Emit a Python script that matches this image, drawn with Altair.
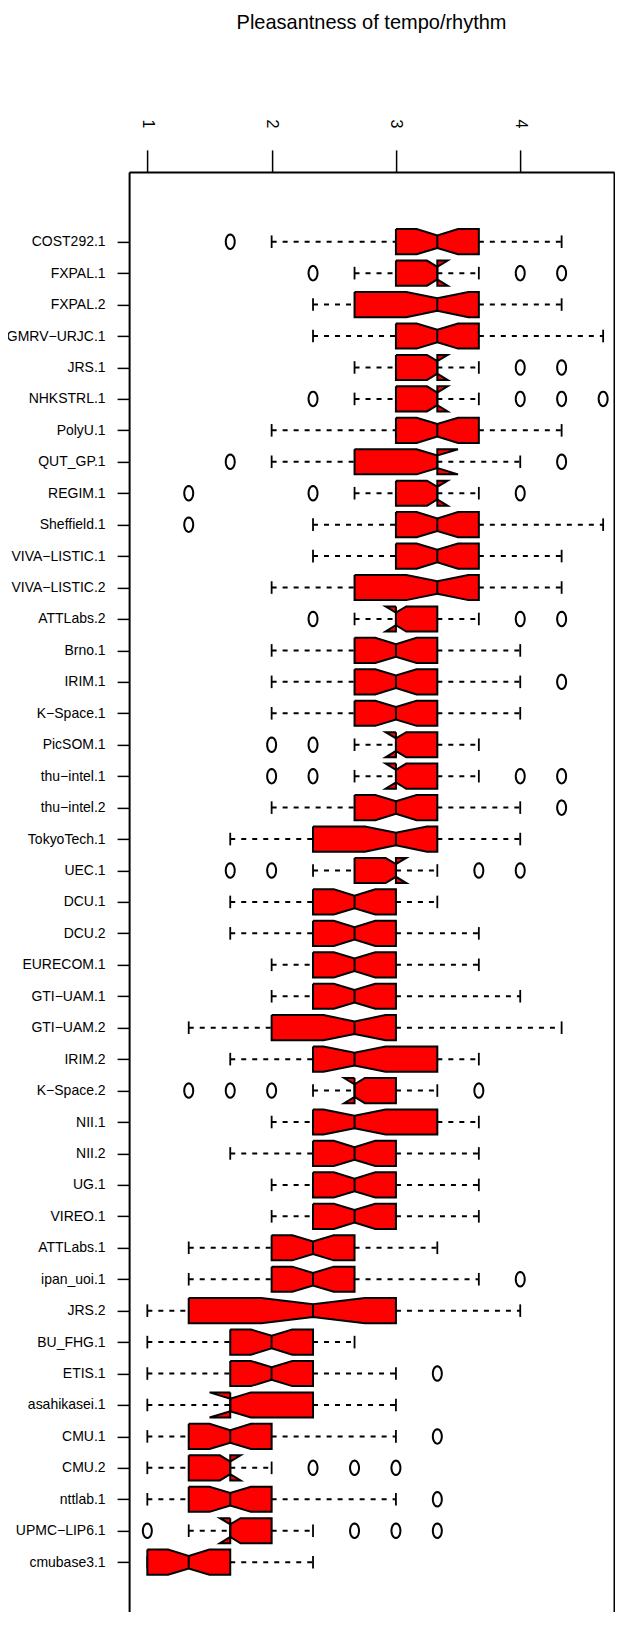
import json
import numpy as np
import pandas as pd
import altair as alt

# ---------------- data (values are on a 1..5 scale in thirds) -------------
runs = ["COST292.1", "FXPAL.1", "FXPAL.2", "GMRV\u2212URJC.1", "JRS.1", "NHKSTRL.1", "PolyU.1",
        "QUT_GP.1", "REGIM.1", "Sheffield.1", "VIVA\u2212LISTIC.1", "VIVA\u2212LISTIC.2", "ATTLabs.2",
        "Brno.1", "IRIM.1", "K\u2212Space.1", "PicSOM.1", "thu\u2212intel.1", "thu\u2212intel.2",
        "TokyoTech.1", "UEC.1", "DCU.1", "DCU.2", "EURECOM.1", "GTI\u2212UAM.1", "GTI\u2212UAM.2",
        "IRIM.2", "K\u2212Space.2", "NII.1", "NII.2", "UG.1", "VIREO.1", "ATTLabs.1", "ipan_uoi.1",
        "JRS.2", "BU_FHG.1", "ETIS.1", "asahikasei.1", "CMU.1", "CMU.2", "nttlab.1",
        "UPMC\u2212LIP6.1", "cmubase3.1"]

whisker_low = [2.0, 2.667, 2.333, 2.333, 2.667, 2.667, 2.0, 2.0, 2.667, 2.333, 2.333, 2.0, 2.667,
               2.0, 2.0, 2.0, 2.667, 2.667, 2.0, 1.667, 2.333, 1.667, 1.667, 2.0, 2.0, 1.333,
               1.667, 2.333, 2.0, 1.667, 2.0, 2.0, 1.333, 1.333, 1.0, 1.0, 1.0, 1.0, 1.0, 1.0, 1.0,
               1.333, 1.0]
q1 = [3.0, 3.0, 2.667, 3.0, 3.0, 3.0, 3.0, 2.667, 3.0, 3.0, 3.0, 2.667, 3.0,
      2.667, 2.667, 2.667, 3.0, 3.0, 2.667, 2.333, 2.667, 2.333, 2.333, 2.333, 2.333, 2.0,
      2.333, 2.667, 2.333, 2.333, 2.333, 2.333, 2.0, 2.0, 1.333, 1.667, 1.667, 1.667, 1.333, 1.333,
      1.333, 1.667, 1.0]
median = [3.333, 3.333, 3.333, 3.333, 3.333, 3.333, 3.333, 3.333, 3.333, 3.333, 3.333, 3.333, 3.0,
          3.0, 3.0, 3.0, 3.0, 3.0, 3.0, 3.0, 3.0, 2.667, 2.667, 2.667, 2.667, 2.667,
          2.667, 2.667, 2.667, 2.667, 2.667, 2.667, 2.333, 2.333, 2.333, 2.0, 2.0, 1.667, 1.667, 1.667,
          1.667, 1.667, 1.333]
q3 = [3.667, 3.333, 3.667, 3.667, 3.333, 3.333, 3.667, 3.333, 3.333, 3.667, 3.667, 3.667, 3.333,
      3.333, 3.333, 3.333, 3.333, 3.333, 3.333, 3.333, 3.0, 3.0, 3.0, 3.0, 3.0, 3.0,
      3.333, 3.0, 3.333, 3.0, 3.0, 3.0, 2.667, 2.667, 3.0, 2.333, 2.333, 2.333, 2.0, 1.667,
      2.0, 2.0, 1.667]
whisker_high = [4.333, 3.667, 4.333, 4.667, 3.667, 3.667, 4.333, 4.0, 3.667, 4.667, 4.333, 4.333, 3.667,
                4.0, 4.0, 4.0, 3.667, 3.667, 4.0, 4.0, 3.333, 3.333, 3.667, 3.667, 4.0, 4.333,
                3.667, 3.333, 3.667, 3.667, 3.667, 3.667, 3.333, 3.667, 4.0, 2.667, 3.0, 3.0, 3.0, 2.0,
                3.0, 2.333, 2.333]
outliers = [[1.667], [2.333, 4.0, 4.333], [], [], [4.0, 4.333], [2.333, 4.0, 4.333, 4.667], [],
            [1.667, 4.333], [1.333, 2.333, 4.0], [1.333], [], [], [2.333, 4.0, 4.333],
            [], [4.333], [], [2.0, 2.333], [2.0, 2.333, 4.0, 4.333], [4.333], [], [1.667, 2.0, 3.667, 4.0],
            [], [], [], [], [], [], [1.333, 1.667, 2.0, 3.667], [], [], [], [], [], [4.0],
            [], [], [3.333], [], [3.333], [2.333, 2.667, 3.0], [3.333], [1.0, 2.667, 3.0, 3.333], []]
n_obs = 40  # ratings per run (estimated from notch sizes)
x_ticks = [1, 2, 3, 4]

TITLE = "Pleasantness of tempo/rhythm"
FONT = "Liberation Sans"

# ---------------- derived tables ----------------
HALF = 0.4      # box half width (category units)
NOTCH_HALF = 0.2
STAPLE = 0.2

poly_rows, stat_rows, out_rows = [], [], []
for i, name in enumerate(runs):
    pos = i + 1
    iqr = q3[i] - q1[i]
    nd = 1.58 * iqr / np.sqrt(n_obs)
    nl, nu = median[i] - nd, median[i] + nd
    verts = [(q1[i], -HALF), (nl, -HALF), (median[i], -NOTCH_HALF), (nu, -HALF), (q3[i], -HALF),
             (q3[i], HALF), (nu, HALF), (median[i], NOTCH_HALF), (nl, HALF), (q1[i], HALF),
             (q1[i], -HALF)]
    for k, (vx, vy) in enumerate(verts):
        poly_rows.append({"run": name, "k": k, "x": vx, "y": pos + vy})
    stat_rows.append({"run": name, "pos": pos, "lo": whisker_low[i], "q1": q1[i], "med": median[i],
                      "q3": q3[i], "hi": whisker_high[i],
                      "s0": pos - STAPLE, "s1": pos + STAPLE,
                      "m0": pos - NOTCH_HALF, "m1": pos + NOTCH_HALF})
    for v in outliers[i]:
        out_rows.append({"run": name, "pos": pos, "v": v})

poly = pd.DataFrame(poly_rows)
stats = pd.DataFrame(stat_rows)
outs = pd.DataFrame(out_rows)

# ---------------- layout ----------------
n = len(runs)
W, H = 484.9, 1440.0          # plot area (page must not overflow the window)
ROW = 31.44                   # px per category
UNIT = 124.3                  # px per rating unit
y0 = 0.5 - 0.04 * n
ydom = [y0, y0 + H / ROW]
xmin = min(whisker_low + [min(o) for o in outliers if o])
xmax = max(whisker_high + [max(o) for o in outliers if o])
x0 = xmin - 0.04 * (xmax - xmin)
xdom = [x0, x0 + W / UNIT]

xscale = alt.Scale(domain=xdom, nice=False, zero=False)
yscale = alt.Scale(domain=ydom, reverse=True, nice=False, zero=False)

label_expr = json.dumps(runs) + "[datum.value - 1]"

x_axis = alt.Axis(orient="top", values=x_ticks, format="d", labelAngle=90, tickSize=22,
                  labelPadding=22, grid=False, domain=True, domainColor="black", domainWidth=2,
                  labelFont=FONT, labelFontSize=16, labelColor="black", tickColor="black",
                  tickWidth=1.5, title=None)
y_axis = alt.Axis(orient="left", values=list(range(1, n + 1)), labelExpr=label_expr, tickSize=12,
                  labelPadding=12, grid=False, domain=True, domainColor="black", domainWidth=2,
                  labelFont=FONT, labelFontSize=14, labelColor="black", tickColor="black",
                  tickWidth=1.5, title=None, labelOverlap=False, labelBound=False, labelFlush=False)
y_axis_right = alt.Axis(orient="right", labels=False, ticks=False, grid=False, domain=True,
                        domainColor="black", domainWidth=2, title=None)


def X(field):
    return alt.X(field, scale=xscale, axis=x_axis)


base_stats = alt.Chart(stats)

whisk_lo = base_stats.mark_rule(color="black", strokeWidth=2, strokeDash=[5, 6]).encode(
    x=X("lo:Q"), x2="q1:Q", y=alt.Y("pos:Q", scale=yscale, axis=y_axis))
whisk_hi = base_stats.mark_rule(color="black", strokeWidth=2, strokeDash=[5, 6]).encode(
    x=X("q3:Q"), x2="hi:Q", y=alt.Y("pos:Q", scale=yscale, axis=y_axis_right))
staple_lo = base_stats.mark_rule(color="black", strokeWidth=1.8).encode(
    x=X("lo:Q"), y=alt.Y("s0:Q", scale=yscale, axis=None), y2="s1:Q")
staple_hi = base_stats.mark_rule(color="black", strokeWidth=1.8).encode(
    x=X("hi:Q"), y=alt.Y("s0:Q", scale=yscale, axis=None), y2="s1:Q")

boxes = alt.Chart(poly).mark_line(fill="#ff0000", stroke="black", strokeWidth=2,
                                  strokeJoin="miter", interpolate="linear").encode(
    x=X("x:Q"), y=alt.Y("y:Q", scale=yscale, axis=None),
    order="k:Q", detail="run:N")

med_line = base_stats.mark_rule(color="black", strokeWidth=2).encode(
    x=X("med:Q"), y=alt.Y("m0:Q", scale=yscale, axis=None), y2="m1:Q")

t = np.linspace(0, 2 * np.pi, 25)[:-1]
ell = "M" + " L".join(f"{0.62 * np.sin(a):.3f},{-np.cos(a):.3f}" for a in t) + " Z"
points = alt.Chart(outs).mark_point(shape=ell, size=210, filled=False, color="black",
                                    strokeWidth=2, opacity=1).encode(
    x=X("v:Q"), y=alt.Y("pos:Q", scale=yscale, axis=None))

chart = alt.layer(whisk_lo, whisk_hi, staple_lo, staple_hi, boxes, med_line, points).resolve_axis(
    y="independent"
).properties(
    width=W, height=H,
    padding={"left": 121.1, "top": 163.9, "right": 1, "bottom": 0},
    autosize=alt.AutoSizeParams(type="none"),
    title=alt.TitleParams(TITLE, font=FONT, fontSize=20, fontWeight="normal", color="black",
                          anchor="middle", offset=86),
    background="white",
).configure_view(stroke=None)

chart.save("out.html", embed_options={"renderer": "svg", "actions": False})
